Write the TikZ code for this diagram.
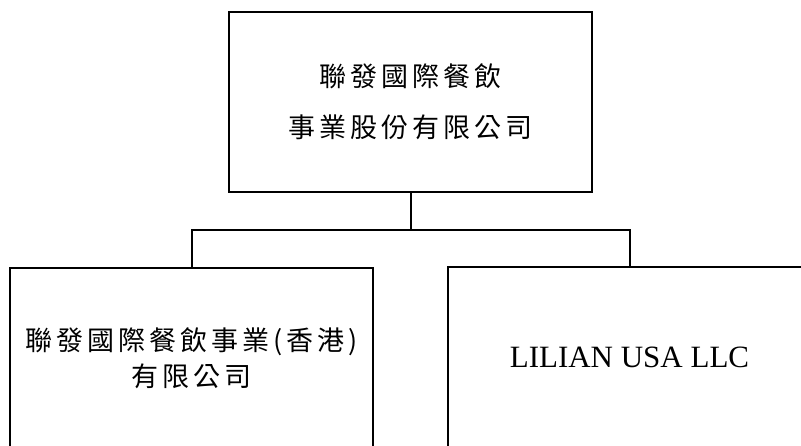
\documentclass[tikz,border=0pt]{standalone}
\usepackage{fontspec}
\setmainfont{Liberation Serif}
\newfontfamily\cjk[LetterSpace=15]{Noto Sans CJK TC}
\usetikzlibrary{positioning}

\begin{document}
\begin{tikzpicture}[x=1pt,y=-1pt,
   box/.style={shape=rectangle,draw=black,line width=2pt,minimum width=363pt,minimum height=180pt,align=center,inner sep=0pt,
      execute at begin node={\lineskiplimit=-100pt\lineskip=0pt}},
   link/.style={draw=black,line width=2pt}]

   \clip (0,0) rectangle (801,445);

   \node[box,font=\cjk\fontsize{27}{51}\selectfont] (parent) at (410.5,102) {聯發國際餐飲\\事業股份有限公司};
   \node[box,font=\cjk\fontsize{27}{36}\selectfont] (hk) at (191.5,358) {聯發國際餐飲事業(香港)\\有限公司};
   \node[box,font=\fontsize{31}{36}\selectfont] (usa) at (629.5,357) {LILIAN USA LLC};

   \coordinate (split) at (410.5,230);

   \path[link] (parent) -- (split);
   \path[link] (split) -| (hk);
   \path[link] (split) -| (usa);

\end{tikzpicture}
\end{document}
